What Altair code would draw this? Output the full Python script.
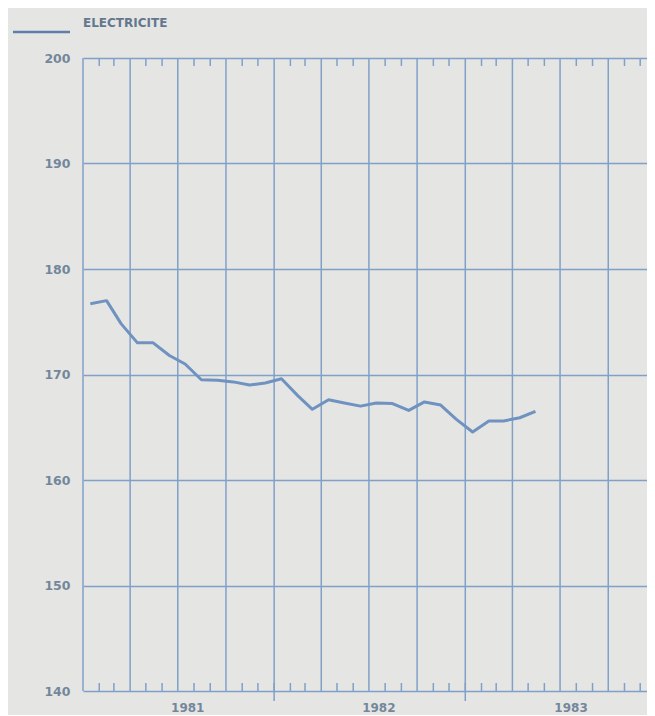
import altair as alt
import pandas as pd

# Monthly values (mid-month), Jan 1981 - May 1983
dates = [
    "1981-01-15", "1981-02-15", "1981-03-15", "1981-04-15", "1981-05-15", "1981-06-15",
    "1981-07-15", "1981-08-15", "1981-09-15", "1981-10-15", "1981-11-15", "1981-12-15",
    "1982-01-15", "1982-02-15", "1982-03-15", "1982-04-15", "1982-05-15", "1982-06-15",
    "1982-07-15", "1982-08-15", "1982-09-15", "1982-10-15", "1982-11-15", "1982-12-15",
    "1983-01-15", "1983-02-15", "1983-03-15", "1983-04-15", "1983-05-15",
]
values = [
    176.7, 177.0, 174.8, 173.0, 173.0, 171.8, 171.0, 169.5, 169.45, 169.3, 169.0, 169.2,
    169.6, 168.0, 166.7, 167.6, 167.3, 167.0, 167.3, 167.25, 166.6, 167.4, 167.1, 165.75,
    164.55, 165.6, 165.6, 165.9, 166.5,
]
series_name = "ELECTRICITE"

quarter_lines = [
    "1981-01-01", "1981-04-01", "1981-07-01", "1981-10-01",
    "1982-01-01", "1982-04-01", "1982-07-01", "1982-10-01",
    "1983-01-01", "1983-04-01", "1983-07-01", "1983-10-01",
]
month_ticks = [
    "1981-02-01", "1981-03-01", "1981-05-01", "1981-06-01", "1981-08-01", "1981-09-01",
    "1981-11-01", "1981-12-01", "1982-02-01", "1982-03-01", "1982-05-01", "1982-06-01",
    "1982-08-01", "1982-09-01", "1982-11-01", "1982-12-01", "1983-02-01", "1983-03-01",
    "1983-05-01", "1983-06-01", "1983-08-01", "1983-09-01", "1983-11-01", "1983-12-01",
]
year_ticks = ["1982-01-01", "1983-01-01"]
year_labels = ["1981", "1982", "1983"]
year_label_pos = ["1981-07-20", "1982-07-20", "1983-07-22"]
y_ticks = [140, 150, 160, 170, 180, 190, 200]

W, H = 564, 633
BG = "#e5e6e3"
GRID = "#80a0c8"
LINE = "#6f92c0"
TXT = "#74869c"
FONT = "DejaVu Sans"

xscale = alt.Scale(domain=["1981-01-01", "1983-12-14"])
yscale = alt.Scale(domain=[140, 200], nice=False, zero=False)

df = pd.DataFrame({"date": dates, "value": values})
dq = pd.DataFrame({"date": quarter_lines})
dm = pd.DataFrame({"date": month_ticks})
dy = pd.DataFrame({"date": year_ticks})
dl = pd.DataFrame({"date": year_label_pos, "label": year_labels})
dleg = pd.DataFrame({"t": [series_name]})

base_y = alt.Y("value:Q", scale=yscale,
               axis=alt.Axis(values=y_ticks, title=None, grid=True, gridColor=GRID,
                             gridWidth=1.6, gridOpacity=1, domain=False, ticks=False,
                             labelColor=TXT, labelFont=FONT, labelFontSize=12.5,
                             labelFontWeight="bold", labelPadding=13))

line = alt.Chart(df).mark_line(color=LINE, strokeWidth=3, strokeJoin="round").encode(
    x=alt.X("date:T", scale=xscale, axis=None),
    y=base_y,
)

qrules = alt.Chart(dq).mark_rule(color=GRID, strokeWidth=1.5).encode(
    x=alt.X("date:T", scale=xscale, axis=None)
)
mtop = alt.Chart(dm).mark_rule(color=GRID, strokeWidth=1.5).encode(
    x=alt.X("date:T", scale=xscale, axis=None), y=alt.value(0), y2=alt.value(8)
)
mbot = alt.Chart(dm).mark_rule(color=GRID, strokeWidth=1.5).encode(
    x=alt.X("date:T", scale=xscale, axis=None), y=alt.value(H - 8), y2=alt.value(H)
)
ytk = alt.Chart(dy).mark_rule(color=GRID, strokeWidth=1.5).encode(
    x=alt.X("date:T", scale=xscale, axis=None), y=alt.value(H - 8), y2=alt.value(H + 10)
)
ylab = alt.Chart(dl).mark_text(color=TXT, font=FONT, fontSize=12,
                               fontWeight="bold", baseline="middle", align="center").encode(
    x=alt.X("date:T", scale=xscale, axis=None), y=alt.value(H + 17), text="label:N"
)
leg_line = alt.Chart(dleg).mark_rule(color="#5f7fa8", strokeWidth=2.5).encode(
    x=alt.value(-70), x2=alt.value(-13), y=alt.value(-26)
)
leg_text = alt.Chart(dleg).mark_text(color="#64778f", font=FONT, fontSize=12,
                                     fontWeight="bold", align="left", baseline="middle").encode(
    x=alt.value(0), y=alt.value(-35), text="t:N"
)

chart = alt.layer(qrules, mtop, mbot, ytk, ylab, line, leg_line, leg_text).properties(
    width=W, height=H, background=BG,
    padding={"left": 3, "top": 9, "right": 0, "bottom": 1},
).configure_view(stroke=None)

chart.save("out.html", embed_options={"renderer": "svg", "actions": False})
